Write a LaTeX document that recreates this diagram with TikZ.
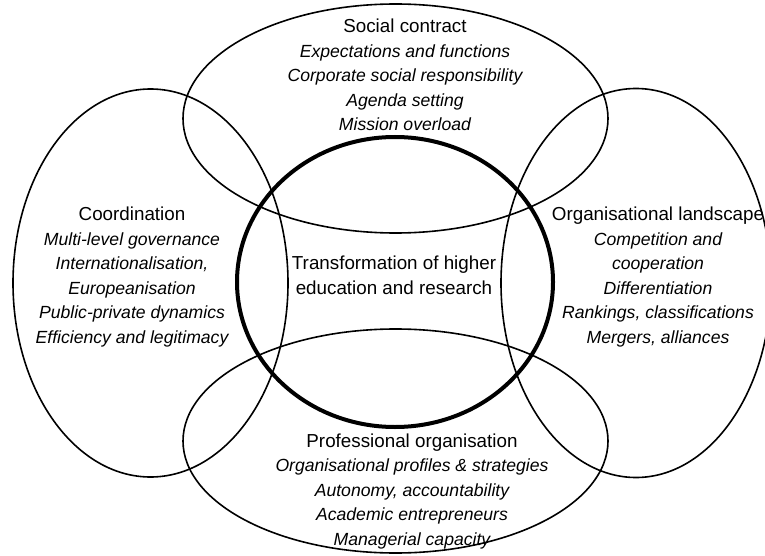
\documentclass[tikz,border=0pt]{standalone}
\usepackage{fontspec}
\setmainfont{Liberation Sans}
% heading and item styles of the theme labels
\newcommand{\hd}{\fontsize{18.8}{24.5}\selectfont\upshape}
\newcommand{\itm}{\fontsize{17.6}{24.5}\selectfont\itshape}
\begin{document}
\begin{tikzpicture}[x=1pt,y=-1pt,
  ring/.style={draw=black,line width=1.6pt},
  core/.style={draw=black,line width=4pt},
  label/.style={align=center,inner sep=0pt,anchor=base,
    font=\fontsize{18.8}{24.5}\selectfont}]
  \useasboundingbox (0,0) rectangle (765,556);
  \begin{scope}
    \clip (0,0) rectangle (765,556);
    % four overlapping themes
    \draw[ring] (395.5,118.5) ellipse [x radius=212.5, y radius=114.5];
    \draw[ring] (150.5,283) ellipse [x radius=137.5, y radius=194];
    \draw[ring] (636,283) ellipse [x radius=135, y radius=194.5];
    \draw[ring] (395.5,441) ellipse [x radius=212.5, y radius=112];
    % central theme
    \draw[core] (395,282) ellipse [x radius=158, y radius=145];
  \end{scope}
  % the base anchor sits on the last line of each label
  \node[label] (social) at (405,131) {\hd Social contract\\\itm Expectations and functions\\\itm Corporate social responsibility\\\itm Agenda setting\\\itm Mission overload};
  \node[label] (coord) at (132,343) {\hd Coordination\\\itm Multi-level governance\\\itm Internationalisation,\\\itm Europeanisation\\\itm Public-private dynamics\\\itm Efficiency and legitimacy};
  \node[label] (land) at (658,343) {\hd Organisational landscape\\\itm Competition and\\\itm cooperation\\\itm Differentiation\\\itm Rankings, classifications\\\itm Mergers, alliances};
  \node[label] (prof) at (412,545) {\hd Professional organisation\\\itm Organisational profiles \& strategies\\\itm Autonomy, accountability\\\itm Academic entrepreneurs\\\itm Managerial capacity};
  \node[label] (core) at (394,294) {\hd Transformation of higher\\\hd education and research};
\end{tikzpicture}
\end{document}
